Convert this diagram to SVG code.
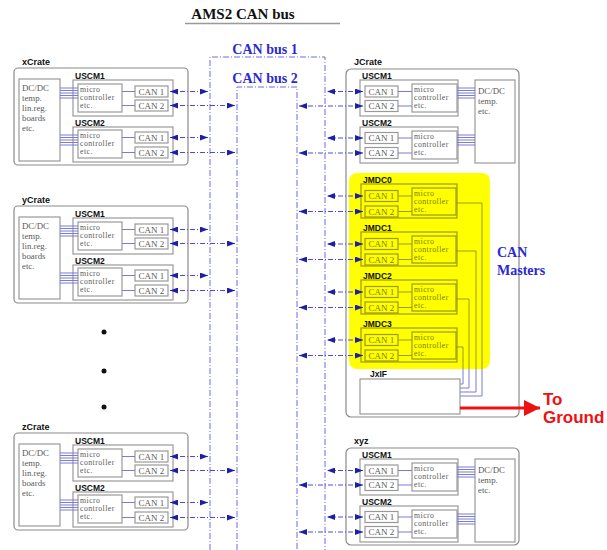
<svg xmlns="http://www.w3.org/2000/svg" width="607" height="550" viewBox="0 0 607 550">
<style>
.bg{fill:#fff}
.crate{fill:#fff;stroke:#8a8a8a;stroke-width:1.2}
.box{fill:#fff;stroke:#999;stroke-width:1.2}
.jbox{fill:none;stroke:#9a9a10;stroke-width:1.2}
.lbl{font-family:"Liberation Sans",Arial,sans-serif;font-weight:bold;font-size:9px;fill:#111}
.sub{font-family:"Liberation Sans",Arial,sans-serif;font-weight:bold;font-size:8.5px;fill:#111}
.tx{font-family:"Liberation Serif","Times New Roman",serif;font-size:8.8px;fill:#5a5a5a}
.mc{font-family:"Liberation Serif","Times New Roman",serif;font-size:7.8px;fill:#5a5a5a;letter-spacing:0.45px}
.can{font-family:"Liberation Serif","Times New Roman",serif;font-size:9px;fill:#5a5a5a;text-anchor:middle}
.jtx{fill:#7a7a00}
.wire{stroke:#7a7ad8;stroke-width:1;fill:none}
.jwire{stroke:#9a9a10;stroke-width:1;fill:none}
.bus{stroke:#6a6aee;stroke-width:1;fill:none;stroke-dasharray:6,2,1,2}
.conn{stroke:#4a4ae0;stroke-width:1;fill:none;stroke-dasharray:5,2,1,2;marker-start:url(#ah);marker-end:url(#ah)}
.blue{font-family:"Liberation Serif","Times New Roman",serif;font-weight:bold;font-size:14px;fill:#2a2ad0}
.red{font-family:"Liberation Sans",Arial,sans-serif;font-weight:bold;font-size:17px;fill:#ee1111}
</style>
<defs>
<marker id="ah" viewBox="0 0 8 6" refX="8" refY="3" markerWidth="8" markerHeight="6" markerUnits="userSpaceOnUse" orient="auto-start-reverse"><path d="M0,0L8,3L0,6z" fill="#1e1ea8"/></marker>
<marker id="rah" viewBox="0 0 10 10" refX="10" refY="5" markerWidth="20" markerHeight="16" markerUnits="userSpaceOnUse" orient="auto"><path d="M0,0L10,5L0,10z" fill="#ee1111"/></marker>
</defs>
<rect class="bg" width="607" height="550"/>

<g id="title">
<text x="243" y="19" text-anchor="middle" style="font-family:'Liberation Serif','Times New Roman',serif;font-weight:bold;font-size:15px;fill:#111">AMS2 CAN bus</text>
<line x1="185" y1="23.5" x2="340" y2="23.5" stroke="#999" stroke-width="1.5"/>
</g>

<g id="buses">
<path class="bus" d="M210,550V57H325V550"/>
<path class="bus" d="M237,550V87H297V550"/>
<text class="blue" x="265" y="54" text-anchor="middle">CAN bus 1</text>
<text class="blue" x="265" y="83" text-anchor="middle">CAN bus 2</text>
</g>

<!-- Left crates -->
<g id="xCrate">
<text class="lbl" x="22" y="65">xCrate</text>
<rect class="crate" x="14" y="68" width="174" height="97" rx="4"/>
<rect class="box" x="19" y="79" width="41" height="82"/>
<text class="tx" x="22" y="91">DC/DC</text><text class="tx" x="22" y="101">temp.</text><text class="tx" x="22" y="111">lin.reg.</text><text class="tx" x="22" y="121">boards</text><text class="tx" x="22" y="131">etc.</text>
<text class="sub" x="75" y="78.5">USCM1</text>
<rect class="box" x="73" y="80" width="100" height="36"/>
<rect class="box" x="78" y="84" width="44" height="28"/>
<text class="mc" x="80" y="91.5">micro</text><text class="mc" x="80" y="99.5">controller</text><text class="mc" x="80" y="108">etc.</text>
<rect class="box" x="135" y="86" width="33" height="11"/><text class="can" x="151.5" y="94.5">CAN 1</text>
<rect class="box" x="135" y="100" width="33" height="11"/><text class="can" x="151.5" y="108.5">CAN 2</text>
<path class="wire" d="M122,91.5H135M122,105.5H135M60,88H78M60,90.5H78M60,93H78M60,95.5H78M60,98H78"/>
<text class="sub" x="75" y="125.5">USCM2</text>
<rect class="box" x="73" y="127" width="100" height="35"/>
<rect class="box" x="78" y="130" width="44" height="28"/>
<text class="mc" x="80" y="137.5">micro</text><text class="mc" x="80" y="145.5">controller</text><text class="mc" x="80" y="154">etc.</text>
<rect class="box" x="135" y="132" width="33" height="11"/><text class="can" x="151.5" y="140.5">CAN 1</text>
<rect class="box" x="135" y="147" width="33" height="11"/><text class="can" x="151.5" y="155.5">CAN 2</text>
<path class="wire" d="M122,137.5H135M122,152.5H135M60,135H78M60,137.5H78M60,140H78M60,142.5H78M60,145H78"/>
</g>

<g id="yCrate" transform="translate(0,138)">
<text class="lbl" x="22" y="65">yCrate</text>
<rect class="crate" x="14" y="68" width="174" height="97" rx="4"/>
<rect class="box" x="19" y="79" width="41" height="82"/>
<text class="tx" x="22" y="91">DC/DC</text><text class="tx" x="22" y="101">temp.</text><text class="tx" x="22" y="111">lin.reg.</text><text class="tx" x="22" y="121">boards</text><text class="tx" x="22" y="131">etc.</text>
<text class="sub" x="75" y="78.5">USCM1</text>
<rect class="box" x="73" y="80" width="100" height="36"/>
<rect class="box" x="78" y="84" width="44" height="28"/>
<text class="mc" x="80" y="91.5">micro</text><text class="mc" x="80" y="99.5">controller</text><text class="mc" x="80" y="108">etc.</text>
<rect class="box" x="135" y="86" width="33" height="11"/><text class="can" x="151.5" y="94.5">CAN 1</text>
<rect class="box" x="135" y="100" width="33" height="11"/><text class="can" x="151.5" y="108.5">CAN 2</text>
<path class="wire" d="M122,91.5H135M122,105.5H135M60,88H78M60,90.5H78M60,93H78M60,95.5H78M60,98H78"/>
<text class="sub" x="75" y="125.5">USCM2</text>
<rect class="box" x="73" y="127" width="100" height="35"/>
<rect class="box" x="78" y="130" width="44" height="28"/>
<text class="mc" x="80" y="137.5">micro</text><text class="mc" x="80" y="145.5">controller</text><text class="mc" x="80" y="154">etc.</text>
<rect class="box" x="135" y="132" width="33" height="11"/><text class="can" x="151.5" y="140.5">CAN 1</text>
<rect class="box" x="135" y="147" width="33" height="11"/><text class="can" x="151.5" y="155.5">CAN 2</text>
<path class="wire" d="M122,137.5H135M122,152.5H135M60,135H78M60,137.5H78M60,140H78M60,142.5H78M60,145H78"/>
</g>

<g id="dots" fill="#111">
<circle cx="104" cy="332" r="2.5"/><circle cx="104" cy="371" r="2.5"/><circle cx="104" cy="407" r="2.5"/>
</g>

<g id="zCrate" transform="translate(0,365)">
<text class="lbl" x="22" y="65">zCrate</text>
<rect class="crate" x="14" y="68" width="174" height="97" rx="4"/>
<rect class="box" x="19" y="79" width="41" height="82"/>
<text class="tx" x="22" y="91">DC/DC</text><text class="tx" x="22" y="101">temp.</text><text class="tx" x="22" y="111">lin.reg.</text><text class="tx" x="22" y="121">boards</text><text class="tx" x="22" y="131">etc.</text>
<text class="sub" x="75" y="78.5">USCM1</text>
<rect class="box" x="73" y="80" width="100" height="36"/>
<rect class="box" x="78" y="84" width="44" height="28"/>
<text class="mc" x="80" y="91.5">micro</text><text class="mc" x="80" y="99.5">controller</text><text class="mc" x="80" y="108">etc.</text>
<rect class="box" x="135" y="86" width="33" height="11"/><text class="can" x="151.5" y="94.5">CAN 1</text>
<rect class="box" x="135" y="100" width="33" height="11"/><text class="can" x="151.5" y="108.5">CAN 2</text>
<path class="wire" d="M122,91.5H135M122,105.5H135M60,88H78M60,90.5H78M60,93H78M60,95.5H78M60,98H78"/>
<text class="sub" x="75" y="125.5">USCM2</text>
<rect class="box" x="73" y="127" width="100" height="35"/>
<rect class="box" x="78" y="130" width="44" height="28"/>
<text class="mc" x="80" y="137.5">micro</text><text class="mc" x="80" y="145.5">controller</text><text class="mc" x="80" y="154">etc.</text>
<rect class="box" x="135" y="132" width="33" height="11"/><text class="can" x="151.5" y="140.5">CAN 1</text>
<rect class="box" x="135" y="147" width="33" height="11"/><text class="can" x="151.5" y="155.5">CAN 2</text>
<path class="wire" d="M122,137.5H135M122,152.5H135M60,135H78M60,137.5H78M60,140H78M60,142.5H78M60,145H78"/>
</g>

<!-- JCrate -->
<g id="JCrate">
<text class="lbl" x="354" y="65">JCrate</text>
<rect class="crate" x="346" y="69" width="173" height="348" rx="5"/>
<rect class="box" x="475" y="80" width="40" height="83"/>
<text class="tx" x="478" y="94">DC/DC</text><text class="tx" x="478" y="104">temp.</text><text class="tx" x="478" y="114">etc.</text>
<text class="sub" x="362" y="78.5">USCM1</text>
<rect class="box" x="360" y="80" width="98" height="36"/>
<rect class="box" x="412" y="84" width="45" height="28"/>
<text class="mc" x="414" y="91.5">micro</text><text class="mc" x="414" y="99.5">controller</text><text class="mc" x="414" y="108">etc.</text>
<rect class="box" x="365" y="86" width="33" height="11"/><text class="can" x="381.5" y="94.5">CAN 1</text>
<rect class="box" x="365" y="100.5" width="33" height="11"/><text class="can" x="381.5" y="109">CAN 2</text>
<path class="wire" d="M398,91.5H412M398,106H412M457,88H475M457,90.5H475M457,93H475M457,95.5H475M457,98H475"/>
<text class="sub" x="362" y="125.5">USCM2</text>
<rect class="box" x="360" y="127" width="98" height="36"/>
<rect class="box" x="412" y="131" width="45" height="28"/>
<text class="mc" x="414" y="138.5">micro</text><text class="mc" x="414" y="146.5">controller</text><text class="mc" x="414" y="155">etc.</text>
<rect class="box" x="365" y="132.5" width="33" height="11"/><text class="can" x="381.5" y="141">CAN 1</text>
<rect class="box" x="365" y="147.5" width="33" height="11"/><text class="can" x="381.5" y="156">CAN 2</text>
<path class="wire" d="M398,138H412M398,153H412M457,135H475M457,137.5H475M457,140H475M457,142.5H475M457,145H475"/>

<rect x="349" y="173" width="141" height="196" rx="8" fill="#ffff00"/>

<g id="JMDC0">
<text class="sub" x="363" y="182.5">JMDC0</text>
<rect class="jbox" x="361" y="184" width="96" height="34"/>
<rect class="jbox" x="365" y="190.5" width="33" height="11"/><text class="can jtx" x="381.5" y="199">CAN 1</text>
<rect class="jbox" x="365" y="206" width="33" height="11"/><text class="can jtx" x="381.5" y="214.5">CAN 2</text>
<rect class="jbox" x="412" y="188" width="44" height="27"/>
<text class="mc jtx" x="414" y="195.5">micro</text><text class="mc jtx" x="414" y="203.5">controller</text><text class="mc jtx" x="414" y="212">etc.</text>
<path class="jwire" d="M398,196H412M398,211.5H412"/>
</g>
<g id="JMDC1">
<text class="sub" x="363" y="230.5">JMDC1</text>
<rect class="jbox" x="361" y="232" width="96" height="34"/>
<rect class="jbox" x="365" y="238.5" width="33" height="11"/><text class="can jtx" x="381.5" y="247">CAN 1</text>
<rect class="jbox" x="365" y="254" width="33" height="11"/><text class="can jtx" x="381.5" y="262.5">CAN 2</text>
<rect class="jbox" x="412" y="236" width="44" height="27"/>
<text class="mc jtx" x="414" y="243.5">micro</text><text class="mc jtx" x="414" y="251.5">controller</text><text class="mc jtx" x="414" y="260">etc.</text>
<path class="jwire" d="M398,244H412M398,259.5H412"/>
</g>
<g id="JMDC2">
<text class="sub" x="363" y="278.5">JMDC2</text>
<rect class="jbox" x="361" y="280" width="96" height="34"/>
<rect class="jbox" x="365" y="286.5" width="33" height="11"/><text class="can jtx" x="381.5" y="295">CAN 1</text>
<rect class="jbox" x="365" y="302" width="33" height="11"/><text class="can jtx" x="381.5" y="310.5">CAN 2</text>
<rect class="jbox" x="412" y="284" width="44" height="27"/>
<text class="mc jtx" x="414" y="291.5">micro</text><text class="mc jtx" x="414" y="299.5">controller</text><text class="mc jtx" x="414" y="308">etc.</text>
<path class="jwire" d="M398,292H412M398,307.5H412"/>
</g>
<g id="JMDC3">
<text class="sub" x="363" y="326.5">JMDC3</text>
<rect class="jbox" x="361" y="328" width="96" height="34"/>
<rect class="jbox" x="365" y="334.5" width="33" height="11"/><text class="can jtx" x="381.5" y="343">CAN 1</text>
<rect class="jbox" x="365" y="350" width="33" height="11"/><text class="can jtx" x="381.5" y="358.5">CAN 2</text>
<rect class="jbox" x="412" y="332" width="44" height="27"/>
<text class="mc jtx" x="414" y="339.5">micro</text><text class="mc jtx" x="414" y="347.5">controller</text><text class="mc jtx" x="414" y="356">etc.</text>
<path class="jwire" d="M398,340H412M398,355.5H412"/>
</g>
<path class="jwire" d="M456,203H482V369M456,251H476V369M456,299H469V369M456,347H463V369"/>
<path class="wire" d="M482,369V396H460M476,369V392H460M469,369V388H460M463,369V384H460"/>

<g id="JxIF">
<text class="sub" x="370" y="376.5">JxIF</text>
<rect class="box" x="360" y="379" width="100" height="35"/>
</g>
</g>

<text class="blue" x="497" y="257">CAN</text>
<text class="blue" x="497" y="275">Masters</text>

<g id="ground">
<line x1="460" y1="408" x2="540" y2="408" stroke="#ee1111" stroke-width="3" marker-end="url(#rah)"/>
<text class="red" x="543" y="405">To</text>
<text class="red" x="543" y="423">Ground</text>
</g>

<!-- xyz -->
<g id="xyz" transform="translate(0,379)">
<text class="lbl" x="354" y="65">xyz</text>
<rect class="crate" x="346" y="69" width="173" height="97" rx="5"/>
<rect class="box" x="475" y="80" width="40" height="83"/>
<text class="tx" x="478" y="94">DC/DC</text><text class="tx" x="478" y="104">temp.</text><text class="tx" x="478" y="114">etc.</text>
<text class="sub" x="362" y="78.5">USCM1</text>
<rect class="box" x="360" y="80" width="98" height="36"/>
<rect class="box" x="412" y="84" width="45" height="28"/>
<text class="mc" x="414" y="91.5">micro</text><text class="mc" x="414" y="99.5">controller</text><text class="mc" x="414" y="108">etc.</text>
<rect class="box" x="365" y="86" width="33" height="11"/><text class="can" x="381.5" y="94.5">CAN 1</text>
<rect class="box" x="365" y="100.5" width="33" height="11"/><text class="can" x="381.5" y="109">CAN 2</text>
<path class="wire" d="M398,91.5H412M398,106H412M457,88H475M457,90.5H475M457,93H475M457,95.5H475M457,98H475"/>
<text class="sub" x="362" y="125.5">USCM2</text>
<rect class="box" x="360" y="127" width="98" height="36"/>
<rect class="box" x="412" y="131" width="45" height="28"/>
<text class="mc" x="414" y="138.5">micro</text><text class="mc" x="414" y="146.5">controller</text><text class="mc" x="414" y="155">etc.</text>
<rect class="box" x="365" y="132.5" width="33" height="11"/><text class="can" x="381.5" y="141">CAN 1</text>
<rect class="box" x="365" y="147.5" width="33" height="11"/><text class="can" x="381.5" y="156">CAN 2</text>
<path class="wire" d="M398,138H412M398,153H412M457,135H475M457,137.5H475M457,140H475M457,142.5H475M457,145H475"/>
</g>

<g id="connectors">
<path class="conn" d="M170,91.5H208"/><path class="conn" d="M170,105.5H235"/>
<path class="conn" d="M170,137.5H208"/><path class="conn" d="M170,152.5H235"/>
<path class="conn" d="M170,229.5H208"/><path class="conn" d="M170,243.5H235"/>
<path class="conn" d="M170,275.5H208"/><path class="conn" d="M170,290.5H235"/>
<path class="conn" d="M170,456.5H208"/><path class="conn" d="M170,470.5H235"/>
<path class="conn" d="M170,502.5H208"/><path class="conn" d="M170,517.5H235"/>
<path class="conn" d="M363,91.5H327"/><path class="conn" d="M363,106H299"/>
<path class="conn" d="M363,138H327"/><path class="conn" d="M363,153H299"/>
<path class="conn" d="M363,196H327"/><path class="conn" d="M363,211.5H299"/>
<path class="conn" d="M363,244H327"/><path class="conn" d="M363,259.5H299"/>
<path class="conn" d="M363,292H327"/><path class="conn" d="M363,307.5H299"/>
<path class="conn" d="M363,340H327"/><path class="conn" d="M363,355.5H299"/>
<path class="conn" d="M363,470.5H327"/><path class="conn" d="M363,485H299"/>
<path class="conn" d="M363,517H327"/><path class="conn" d="M363,532H299"/>
</g>
</svg>
